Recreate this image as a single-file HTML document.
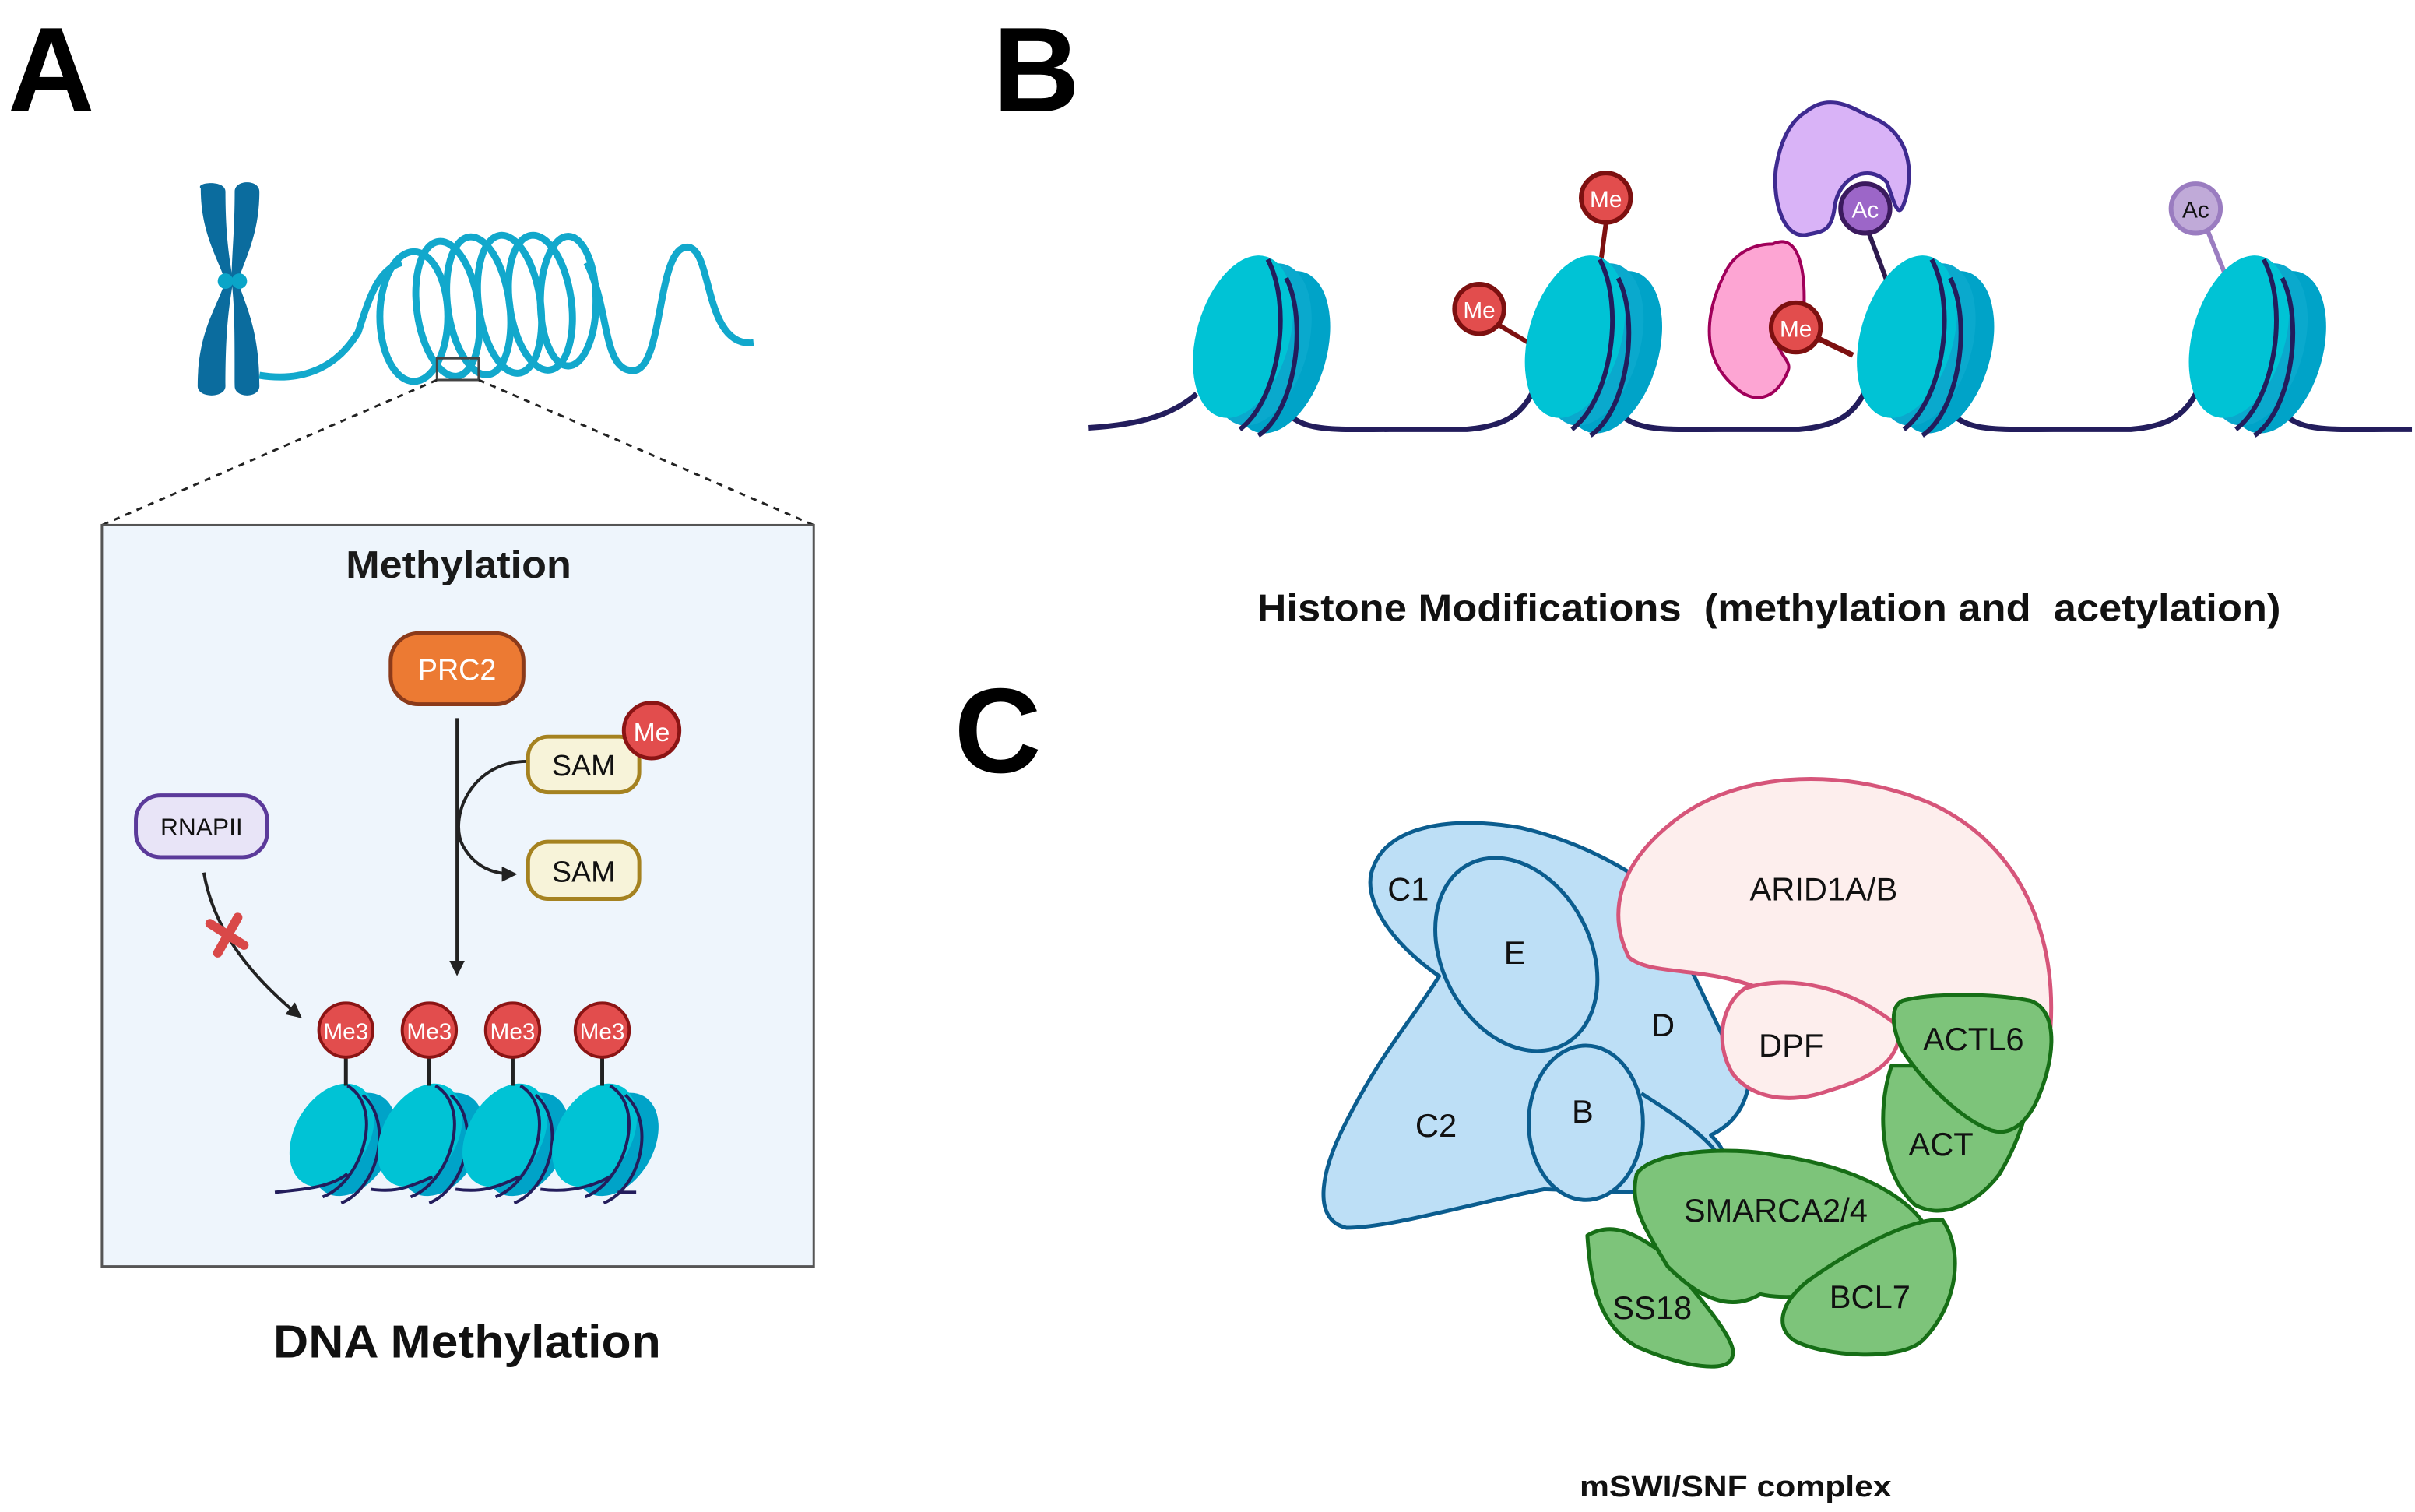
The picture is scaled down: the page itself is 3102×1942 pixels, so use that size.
<!DOCTYPE html>
<html><head><meta charset="utf-8"><style>
html,body{margin:0;padding:0;background:#fff;}
svg{display:block;}
text{font-family:"Liberation Sans",Arial,sans-serif;}
</style></head><body>
<svg width="3102" height="1942" viewBox="0 0 1564 979" preserveAspectRatio="none" xmlns="http://www.w3.org/2000/svg">
<defs>
<g id="nuc">
  <ellipse cx="24" cy="10" rx="30" ry="54" transform="rotate(16 24 10)" fill="#00a3c8"/>
  <ellipse cx="12" cy="5" rx="30" ry="54" transform="rotate(16 12 5)" fill="#0aa9cd"/>
  <ellipse cx="0" cy="0" rx="30" ry="54" transform="rotate(16 0 0)" fill="#00c3d5"/>
  <path d="M16,-50 C32,-20 24,40 -2,60" fill="none" stroke="#231d5c" stroke-width="3"/>
  <path d="M28,-38 C42,-10 34,48 10,64" fill="none" stroke="#231d5c" stroke-width="3"/>
</g>
<g id="nucA">
  <ellipse cx="14" cy="6" rx="24" ry="36" transform="rotate(30 14 6)" fill="#00a3c8"/>
  <ellipse cx="0" cy="0" rx="24" ry="36" transform="rotate(30 0 0)" fill="#00c3d5"/>
  <path d="M10,-32 C34,-18 20,30 -6,40" fill="none" stroke="#231d5c" stroke-width="2"/>
  <path d="M20,-26 C40,-8 30,34 6,44" fill="none" stroke="#231d5c" stroke-width="2"/>
</g>
<marker id="ar" markerWidth="10" markerHeight="10" refX="8" refY="5" orient="auto" markerUnits="userSpaceOnUse"><path d="M0,0 L10,5 L0,10 Z" fill="#222"/></marker>
</defs>

<text x="5" y="72" font-size="78" font-weight="bold" fill="#000">A</text>
<path d="M130,122 C126,118 146,116 146,124 C146,150 148,165 151,182 C148,200 146,215 146,250 C146,258 128,258 128,250 C128,215 140,200 146,182 C140,165 130,150 130,122 Z" fill="#0b6c9e"/>
<path d="M152,124 C152,116 168,116 168,124 C168,150 160,165 154,182 C160,200 168,215 168,250 C168,258 152,258 152,250 C152,215 152,200 150,182 C150,165 152,150 152,124 Z" fill="#0b6c9e"/>
<circle cx="146" cy="182" r="5" fill="#0aa5c8"/><circle cx="155" cy="182" r="5" fill="#0aa5c8"/>
<g fill="none" stroke="#12a8cc" stroke-width="4.5">
<path d="M168,243 C200,248 220,235 232,215 C240,190 245,175 260,170"/>
<ellipse cx="268" cy="205" rx="22" ry="42"/>
<ellipse cx="290" cy="200" rx="20" ry="44" transform="rotate(-8 290 200)"/>
<ellipse cx="310" cy="198" rx="20" ry="45" transform="rotate(-8 310 198)"/>
<ellipse cx="330" cy="197" rx="20" ry="45" transform="rotate(-8 330 197)"/>
<ellipse cx="350" cy="196" rx="20" ry="44" transform="rotate(-8 350 196)"/>
<ellipse cx="368" cy="195" rx="18" ry="42"/>
<path d="M380,170 C395,200 390,240 410,240 C430,240 425,160 445,160 C462,160 455,225 488,222"/>
</g>
<rect x="283" y="232" width="27" height="14" fill="none" stroke="#444" stroke-width="1.5"/>
<line x1="283" y1="246" x2="66" y2="340" stroke="#222" stroke-width="1.5" stroke-dasharray="4 4"/>
<line x1="310" y1="246" x2="527" y2="340" stroke="#222" stroke-width="1.5" stroke-dasharray="4 4"/>
<rect x="66" y="340" width="461" height="480" fill="#eef5fc" stroke="#555" stroke-width="1.5"/>
<text x="224" y="374" font-size="25" font-weight="bold" fill="#1a1a1a" textLength="146" lengthAdjust="spacingAndGlyphs">Methylation</text>
<rect x="253" y="410" width="86" height="46" rx="18" fill="#ec7a33" stroke="#8b3a1a" stroke-width="2.5"/>
<text x="296" y="440" font-size="19" text-anchor="middle" fill="#fff">PRC2</text>
<line x1="296" y1="465" x2="296" y2="630" stroke="#222" stroke-width="2" marker-end="url(#ar)"/>
<path d="M341,493 C305,493 290,530 300,548 C308,562 320,566 333,566" fill="none" stroke="#222" stroke-width="2" marker-end="url(#ar)"/>
<rect x="342" y="477" width="72" height="36" rx="13" fill="#f7f3d9" stroke="#a58220" stroke-width="2.5"/>
<text x="378" y="502" font-size="19" text-anchor="middle" fill="#111">SAM</text>
<circle cx="422" cy="473" r="18" fill="#e24d4d" stroke="#8b1414" stroke-width="2.5"/>
<text x="422" y="480" font-size="17" text-anchor="middle" fill="#fff">Me</text>
<rect x="342" y="545" width="72" height="37" rx="13" fill="#f7f3d9" stroke="#a58220" stroke-width="2.5"/>
<text x="378" y="571" font-size="19" text-anchor="middle" fill="#111">SAM</text>
<rect x="88" y="515" width="85" height="40" rx="16" fill="#e8e4f7" stroke="#5b3a9a" stroke-width="2.5"/>
<text x="130.5" y="541" font-size="16" text-anchor="middle" fill="#111">RNAPII</text>
<path d="M132,565 C138,600 160,630 194,658" fill="none" stroke="#222" stroke-width="2" marker-end="url(#ar)"/>
<line x1="136" y1="598" x2="158" y2="612" stroke="#d94848" stroke-width="6" stroke-linecap="round"/>
<line x1="154" y1="594" x2="141" y2="617" stroke="#d94848" stroke-width="6" stroke-linecap="round"/>
<g>
<use href="#nucA" x="215" y="735"/>
<use href="#nucA" x="272" y="735"/>
<use href="#nucA" x="327" y="735"/>
<use href="#nucA" x="385" y="735"/>
<path d="M178,772 C200,770 215,768 225,760 M240,770 C255,772 262,770 280,762 M295,770 C310,772 320,770 336,762 M350,770 C365,772 380,770 395,762 M400,772 L412,772" fill="none" stroke="#231d5c" stroke-width="2"/>
</g>
<g stroke="#222" stroke-width="2.5">
<line x1="224" y1="684" x2="224" y2="703"/><line x1="278" y1="684" x2="278" y2="703"/>
<line x1="332" y1="684" x2="332" y2="703"/><line x1="390" y1="684" x2="390" y2="703"/>
</g>
<g fill="#e24d4d" stroke="#8b1414" stroke-width="2">
<circle cx="224" cy="667" r="17.5"/><circle cx="278" cy="667" r="17.5"/><circle cx="332" cy="667" r="17.5"/><circle cx="390" cy="667" r="17.5"/>
</g>
<g font-size="15" fill="#fff" text-anchor="middle">
<text x="224" y="673">Me3</text><text x="278" y="673">Me3</text><text x="332" y="673">Me3</text><text x="390" y="673">Me3</text>
</g>
<text x="177" y="879" font-size="30" font-weight="bold" fill="#111" textLength="251" lengthAdjust="spacingAndGlyphs">DNA Methylation</text>

<text x="643" y="72" font-size="78" font-weight="bold" fill="#000">B</text>
<path d="M705,277 C740,275 760,268 775,255 M830,262 C840,280 860,278 900,278 L950,278 C975,276 985,268 992,255 M1045,262 C1055,280 1075,278 1115,278 L1165,278 C1190,276 1200,268 1207,255 M1260,262 C1270,280 1290,278 1330,278 L1380,278 C1405,276 1415,268 1422,255 M1475,262 C1485,280 1505,278 1545,278 L1562,278" fill="none" stroke="#231d5c" stroke-width="3.5"/>
<line x1="1040" y1="145" x2="1036" y2="175" stroke="#7d1010" stroke-width="3"/>
<line x1="970" y1="210" x2="990" y2="222" stroke="#7d1010" stroke-width="3"/>
<line x1="1175" y1="218" x2="1200" y2="230" stroke="#7d1010" stroke-width="3.5"/>
<line x1="1210" y1="150" x2="1222" y2="182" stroke="#2d1a4e" stroke-width="3"/>
<line x1="1430" y1="150" x2="1442" y2="180" stroke="#9a7cc0" stroke-width="3"/>
<use href="#nuc" x="805" y="218"/>
<use href="#nuc" x="1020" y="218"/>
<use href="#nuc" x="1235" y="218"/>
<use href="#nuc" x="1450" y="218"/>
<path d="M1170,72 C1185,60 1200,70 1210,75 C1230,82 1240,100 1235,125 C1230,145 1228,135 1222,118 C1210,105 1190,115 1188,135 C1186,150 1180,150 1170,152 C1155,155 1148,130 1150,110 C1153,90 1160,78 1170,72 Z" fill="#d9b3f7" stroke="#3e2a90" stroke-width="2.5"/>
<path d="M1148,158 C1165,150 1170,175 1168,205 C1158,200 1150,215 1152,225 C1155,232 1160,235 1158,240 C1150,260 1135,262 1123,250 C1100,230 1105,200 1118,175 C1125,162 1138,158 1148,158 Z" fill="#fda5d3" stroke="#a0005a" stroke-width="2"/>
<circle cx="1040" cy="128" r="16" fill="#e24d4d" stroke="#7d1010" stroke-width="3"/>
<text x="1040" y="134" font-size="15" fill="#fff" text-anchor="middle">Me</text>
<circle cx="958" cy="200" r="16" fill="#e24d4d" stroke="#7d1010" stroke-width="3"/>
<text x="958" y="206" font-size="15" fill="#fff" text-anchor="middle">Me</text>
<circle cx="1163" cy="212" r="16" fill="#e24d4d" stroke="#7d1010" stroke-width="3"/>
<text x="1163" y="218" font-size="15" fill="#fff" text-anchor="middle">Me</text>
<circle cx="1208" cy="135" r="16" fill="#9c66c8" stroke="#3b1a5e" stroke-width="3"/>
<text x="1208" y="141" font-size="15" fill="#fff" text-anchor="middle">Ac</text>
<circle cx="1422" cy="135" r="16" fill="#c0aad8" stroke="#9a7cc0" stroke-width="3"/>
<text x="1422" y="141" font-size="15" fill="#111" text-anchor="middle">Ac</text>
<text x="814" y="402" font-size="25" font-weight="bold" fill="#111" textLength="663" lengthAdjust="spacingAndGlyphs" xml:space="preserve">Histone Modifications  (methylation and  acetylation)</text>

<text x="618" y="500" font-size="78" font-weight="bold" fill="#000">C</text>
<g stroke-width="2.5" stroke-linejoin="round">
<path d="M932,632 C900,610 880,580 890,560 C900,535 940,528 985,536 C1020,544 1050,560 1070,575 L1132,705 C1128,722 1118,730 1108,735 C1118,745 1120,752 1110,760 C1095,770 1075,770 1058,772 L1000,770 C950,780 900,795 872,795 C850,790 855,760 870,730 C895,680 915,660 932,632 Z" fill="#bddff6" stroke="#0b5d8f"/>
<ellipse cx="982" cy="618" rx="48" ry="66" transform="rotate(-28 982 618)" fill="#bddff6" stroke="#0b5d8f"/>
<path d="M1063,708 C1090,725 1110,740 1115,752" fill="none" stroke="#0b5d8f"/>
<ellipse cx="1027" cy="727" rx="37" ry="50" fill="#bddff6" stroke="#0b5d8f"/>
<path d="M1055,620 C1040,590 1050,560 1080,535 C1120,500 1190,495 1250,520 C1305,545 1332,600 1328,665 L1230,665 C1200,648 1170,640 1140,640 C1100,625 1070,632 1055,620 Z" fill="#fdeeed" stroke="#d6557a"/>
<path d="M1130,640 C1160,630 1200,640 1230,665 C1232,690 1205,700 1185,706 C1160,715 1135,712 1122,695 C1110,675 1115,650 1130,640 Z" fill="#fdeeed" stroke="#d6557a"/>
<path d="M1028,800 C1045,790 1060,800 1075,810 C1110,850 1125,870 1122,878 C1120,890 1090,885 1060,872 C1035,858 1030,830 1028,800 Z" fill="#7dc47a" stroke="#166e16"/>
<path d="M1060,760 C1070,745 1120,742 1150,748 C1200,755 1240,775 1250,800 C1235,830 1170,845 1140,838 C1120,850 1100,840 1080,820 C1065,795 1055,780 1060,760 Z" fill="#7dc47a" stroke="#166e16"/>
<path d="M1258,790 C1272,810 1268,845 1245,868 C1230,882 1180,878 1162,868 C1150,860 1152,845 1170,830 C1200,808 1240,788 1258,790 Z" fill="#7dc47a" stroke="#166e16"/>
<path d="M1225,690 C1215,720 1218,760 1240,780 C1258,790 1280,780 1295,760 C1310,735 1318,705 1315,690 Z" fill="#7dc47a" stroke="#166e16"/>
<path d="M1232,648 C1250,643 1290,643 1315,648 C1335,655 1330,690 1318,715 C1310,730 1300,735 1290,732 C1270,725 1245,700 1232,680 C1225,665 1224,652 1232,648 Z" fill="#7dc47a" stroke="#166e16"/>
</g>
<g font-size="21" fill="#111" text-anchor="middle">
<text x="912" y="583">C1</text><text x="981" y="624">E</text><text x="1077" y="671">D</text>
<text x="930" y="736">C2</text><text x="1025" y="727">B</text>
<text x="1181" y="583">ARID1A/B</text><text x="1160" y="684">DPF</text>
<text x="1278" y="680">ACTL6</text><text x="1257" y="748">ACT</text>
<text x="1150" y="791">SMARCA2/4</text><text x="1070" y="854">SS18</text><text x="1211" y="847">BCL7</text>
</g>
<text x="1023" y="969" font-size="19" font-weight="bold" fill="#111" textLength="202" lengthAdjust="spacingAndGlyphs">mSWI/SNF complex</text>
</svg>
</body></html>
